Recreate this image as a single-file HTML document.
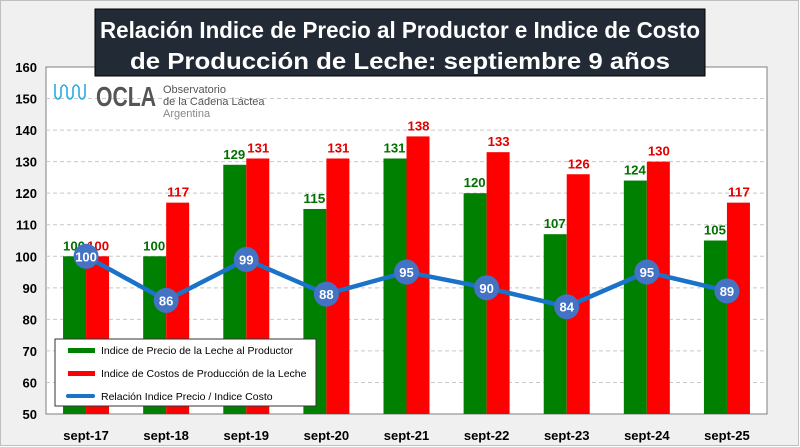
<!DOCTYPE html>
<html><head><meta charset="utf-8"><style>
body{margin:0;background:#fff}
svg{display:block;font-family:"Liberation Sans",sans-serif}
</style></head><body>
<svg id="c" width="800" height="447" xmlns="http://www.w3.org/2000/svg">
<rect x="0.5" y="0.5" width="798" height="445" fill="#f0f0f0" stroke="#bfbfbf"/>
<rect x="46" y="67" width="721" height="347" fill="#fff" stroke="#7f7f7f"/>
<g id="grid"></g><g id="bars"></g><g id="line"></g><g id="ticks"></g>
<rect x="95" y="9" width="610" height="67" fill="#222a35" stroke="#000"/>
<text x="400" y="38" text-anchor="middle" font-size="23" font-weight="bold" fill="#fff" textLength="600" lengthAdjust="spacingAndGlyphs">Relación Indice de Precio al Productor e Indice de Costo</text>
<text x="400" y="69" text-anchor="middle" font-size="23" font-weight="bold" fill="#fff" textLength="540" lengthAdjust="spacingAndGlyphs">de Producción de Leche:  septiembre 9 años</text>
<g>
<path d="M55 84 v12 q3 6 6 0 v-8 q3 -6 6 0 v8 q3 6 6 0 v-8 q3 -6 6 0 v8 q3 6 6 0 v-12" fill="none" stroke="#29abe2" stroke-width="1.6"/>
<text x="96" y="106" font-size="28" font-weight="bold" fill="#555" textLength="60" lengthAdjust="spacingAndGlyphs">OCLA</text>
<text x="163" y="93" font-size="11" fill="#555">Observatorio</text>
<text x="163" y="105" font-size="11" fill="#555">de la Cadena Láctea</text>
<text x="163" y="117" font-size="11" fill="#888">Argentina</text>
</g>
<g>
<rect x="55" y="339" width="261" height="67" fill="#fff" stroke="#333"/>
<rect x="68" y="348" width="27" height="5" fill="#008000"/>
<text x="101" y="354" font-size="10.5" fill="#000">Indice de Precio de la Leche al Productor</text>
<rect x="68" y="371" width="27" height="5" fill="#ff0000"/>
<text x="101" y="377" font-size="10.5" fill="#000">Indice de Costos de Producción de la Leche</text>
<rect x="66" y="394" width="29" height="4" rx="2" fill="#1a73c8"/>
<text x="101" y="400" font-size="10.5" fill="#000">Relación Indice Precio / Indice Costo</text>
</g>
</svg>
<script>
const categories=["sept-17","sept-18","sept-19","sept-20","sept-21","sept-22","sept-23","sept-24","sept-25"];
const precio=[100,100,129,115,131,120,107,124,105];
const costo=[100,117,131,131,138,133,126,130,117];
const relacion=[100,86,99,88,95,90,84,95,89];
const yTicks=[50,60,70,80,90,100,110,120,130,140,150,160];
const NS="http://www.w3.org/2000/svg";
const L=46,R=767,T=67,B=414,ymin=50,ymax=160;
const step=(R-L)/categories.length;
const xc=i=>L+step*(i+0.5);
const y=v=>B-(v-ymin)/(ymax-ymin)*(B-T);
function mk(tag,a,p){const e=document.createElementNS(NS,tag);for(const k in a)e.setAttribute(k,a[k]);p.appendChild(e);return e;}
const grid=document.getElementById('grid'),ticks=document.getElementById('ticks'),bars=document.getElementById('bars'),line=document.getElementById('line');
yTicks.forEach(v=>{
 if(v>ymin&&v<ymax){const g=mk('line',{x1:L,x2:R,y1:y(v),y2:y(v),stroke:'#c8c8c8','stroke-dasharray':'4,3'},grid);
 
 }
 const t=mk('text',{x:37,y:y(v)+5,'text-anchor':'end','font-size':13,'font-weight':'bold',fill:'#000'},ticks);t.textContent=v;
 
 
});
categories.forEach((c,i)=>{
 const cx=xc(i),w=23;
 const g=mk('rect',{x:cx-w,y:y(precio[i]),width:w,height:B-y(precio[i]),fill:'#008000'},bars);
 
 
 const r=mk('rect',{x:cx,y:y(costo[i]),width:w,height:B-y(costo[i]),fill:'#ff0000'},bars);
 
 
 const gl=mk('text',{x:cx-12,y:y(precio[i])-6,'text-anchor':'middle','font-size':13,'font-weight':'bold',fill:'#007000',textLength:22,lengthAdjust:'spacingAndGlyphs'},bars);gl.textContent=precio[i];
 
 
 const rl=mk('text',{x:cx+12,y:y(costo[i])-6,'text-anchor':'middle','font-size':13,'font-weight':'bold',fill:'#e00000',textLength:22,lengthAdjust:'spacingAndGlyphs'},bars);rl.textContent=costo[i];
 
 
 const xl=mk('text',{x:cx,y:440,'text-anchor':'middle','font-size':13,'font-weight':'bold',fill:'#000'},ticks);xl.textContent=c;
 
 
});
const pl=mk('polyline',{points:relacion.map((v,i)=>xc(i)+','+y(v)).join(' '),fill:'none',stroke:'#1a73c8','stroke-width':4.5},line);


relacion.forEach((v,i)=>{
 const c=mk('circle',{cx:xc(i),cy:y(v),r:12.5,fill:'#4472c4'},line);
 
 
 const t=mk('text',{x:xc(i),y:y(v)+5,'text-anchor':'middle','font-size':13,'font-weight':'bold',fill:'#fff'},line);t.textContent=v;
 
 
});
</script>
</body></html>
